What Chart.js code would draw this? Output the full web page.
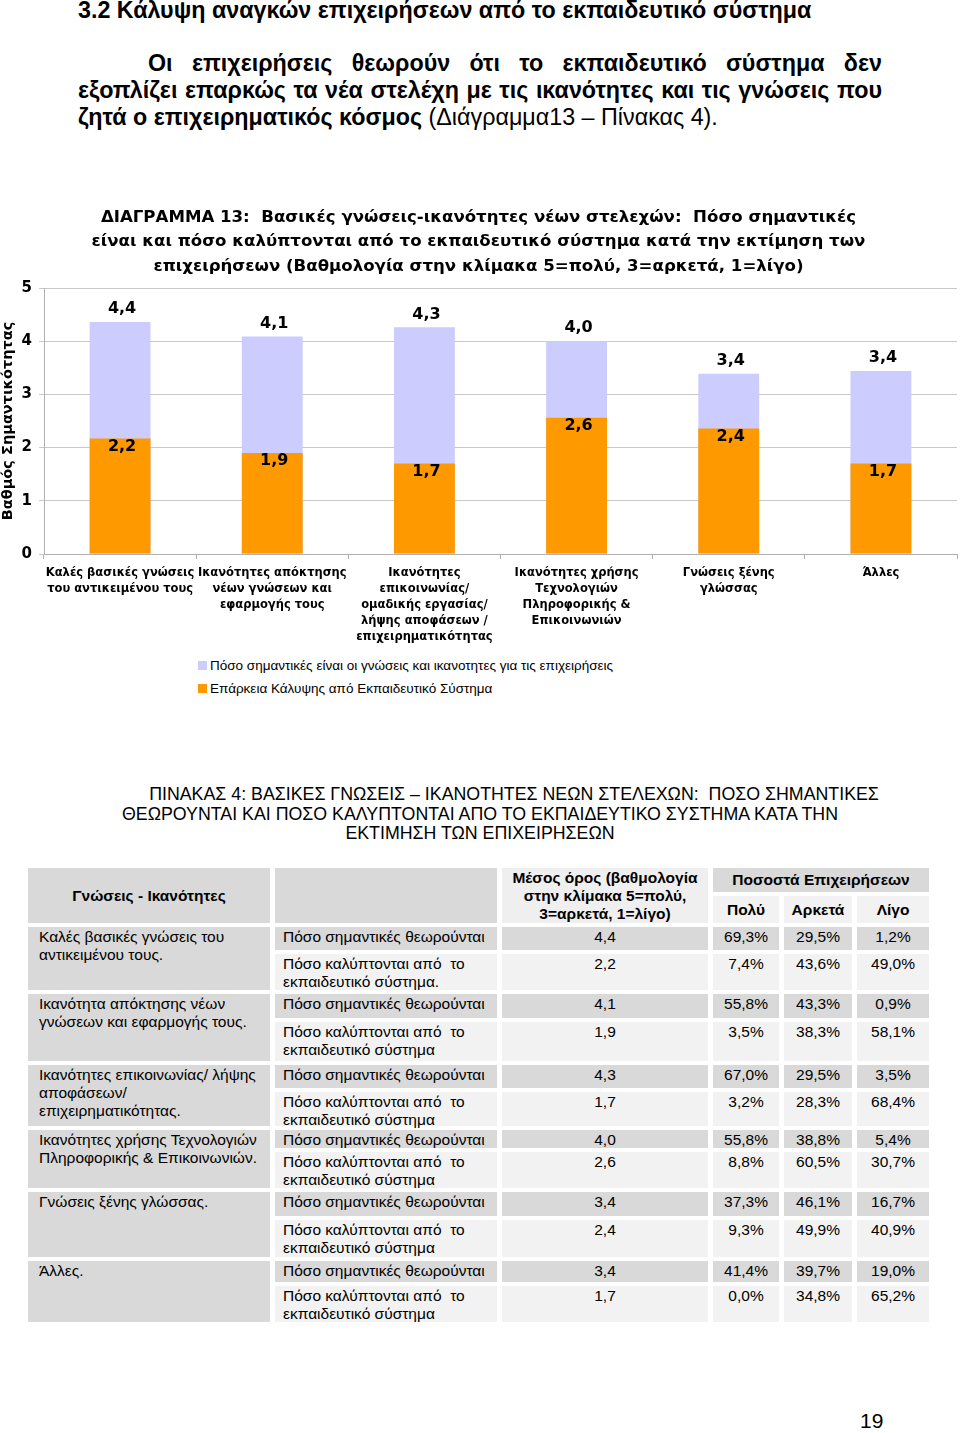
<!DOCTYPE html>
<html lang="el">
<head>
<meta charset="utf-8">
<script src="https://cdn.jsdelivr.net/npm/chart.js@4.4.1/dist/chart.umd.min.js"></script>
<style>
  body { margin: 0; width: 960px; height: 1433px; position: relative; background: #fff; color: #000;
         font-family: "Liberation Sans", Arial, sans-serif; overflow: hidden; }
  #heading { position: absolute; top: -3px; left: 78px; font-size: 23.3px; font-weight: bold; white-space: nowrap; }
  #para { position: absolute; top: 50px; left: 78px; width: 804px; font-size: 23.3px; font-weight: bold; line-height: 27px; }
  #para div { text-align: justify; text-align-last: justify; white-space: nowrap; }
  #para div.first { padding-left: 70px; }
  #para div.last { text-align-last: left; }
  #para span { font-weight: normal; }
  #chartBox { position: absolute; top: 195px; left: 0; width: 960px; height: 450px; }
  #legend { position: absolute; top: 654px; left: 198px; font-size: 13.5px; line-height: 23px; white-space: nowrap; }
  #legend .box { display: inline-block; width: 9px; height: 9px; margin-right: 3px; vertical-align: 0; }
  #tableTitle { position: absolute; top: 785px; left: 30px; width: 900px; font-size: 17.8px; line-height: 19.5px;
                text-align: center; white-space: nowrap; }
  table { position: absolute; top: 864px; left: 23px; border-collapse: separate; border-spacing: 5px 4px;
          table-layout: fixed; font-size: 15.5px; }
  td { padding: 0; vertical-align: top; }
  td > div { overflow: visible; line-height: 18px; padding-top: 1px; box-sizing: border-box; }
  td.dark { background: #d9d9d9; }
  td.light { background: #f2f2f2; }
  td.c { text-align: center; }
  td.name > div { padding-left: 11px; }
  td.q > div { padding-left: 8px; white-space: nowrap; }
  th { font-weight: bold; font-size: 15.5px; line-height: 18px; padding: 0; }
  #pageNo { position: absolute; left: 860px; top: 1409px; font-size: 21px; }
</style>
</head>
<body>
<div id="heading">3.2 Κάλυψη αναγκών επιχειρήσεων από το εκπαιδευτικό σύστημα</div>
<div id="para">
  <div class="first">Οι επιχειρήσεις θεωρούν ότι το εκπαιδευτικό σύστημα δεν</div>
  <div>εξοπλίζει επαρκώς τα νέα στελέχη με τις ικανότητες και τις γνώσεις που</div>
  <div class="last">ζητά ο επιχειρηματικός κόσμος <span>(Διάγραμμα13 – Πίνακας 4).</span></div>
</div>
<div id="chartBox"><canvas id="chart"></canvas></div>
<div id="legend"></div>
<div id="tableTitle"><span style="padding-left:68px">ΠΙΝΑΚΑΣ 4: ΒΑΣΙΚΕΣ ΓΝΩΣΕΙΣ – ΙΚΑΝΟΤΗΤΕΣ ΝΕΩΝ ΣΤΕΛΕΧΩΝ:&nbsp; ΠΟΣΟ ΣΗΜΑΝΤΙΚΕΣ</span><br>ΘΕΩΡΟΥΝΤΑΙ ΚΑΙ ΠΟΣΟ ΚΑΛΥΠΤΟΝΤΑΙ ΑΠΟ ΤΟ ΕΚΠΑΙΔΕΥΤΙΚΟ ΣΥΣΤΗΜΑ ΚΑΤΑ ΤΗΝ<br>ΕΚΤΙΜΗΣΗ ΤΩΝ ΕΠΙΧΕΙΡΗΣΕΩΝ</div>
<table id="table">
  <colgroup><col style="width:242px"><col style="width:222px"><col style="width:206px"><col style="width:66px"><col style="width:68px"><col style="width:72px"></colgroup>
  <tbody id="tbody"></tbody>
</table>
<div id="pageNo">19</div>

<script>
// chart data
const categories = [
  ["Καλές βασικές γνώσεις", "του αντικειμένου τους"],
  ["Ικανότητες απόκτησης", "νέων γνώσεων και", "εφαρμογής τους"],
  ["Ικανότητες", "επικοινωνίας/", "ομαδικής εργασίας/", "λήψης αποφάσεων /", "επιχειρηματικότητας"],
  ["Ικανότητες χρήσης", "Τεχνολογιών", "Πληροφορικής &", "Επικοινωνιών"],
  ["Γνώσεις ξένης", "γλώσσας"],
  ["Άλλες"]
]
const importance = [4.36, 4.09, 4.26, 4.0, 3.39, 3.44]
const coverage = [2.17, 1.9, 1.7, 2.56, 2.36, 1.7]
const yTicks = [0, 1, 2, 3, 4, 5]
const seriesNames = [
  "Πόσο σημαντικές είναι οι γνώσεις και ικανοτητες για τις επιχειρήσεις",
  "Επάρκεια Κάλυψης από Εκπαιδευτικό Σύστημα"
]
const chartTitle = [
  "ΔΙΑΓΡΑΜΜΑ 13:  Βασικές γνώσεις-ικανότητες νέων στελεχών:  Πόσο σημαντικές",
  "είναι και πόσο καλύπτονται από το εκπαιδευτικό σύστημα κατά την εκτίμηση των",
  "επιχειρήσεων (Βαθμολογία στην κλίμακα 5=πολύ, 3=αρκετά, 1=λίγο)"
]

// table data
const skillNames = [
  ["Καλές βασικές γνώσεις του", "αντικειμένου τους."],
  ["Ικανότητα απόκτησης νέων", "γνώσεων και εφαρμογής τους."],
  ["Ικανότητες επικοινωνίας/ λήψης", "αποφάσεων/", "επιχειρηματικότητας."],
  ["Ικανότητες χρήσης Τεχνολογιών", "Πληροφορικής & Επικοινωνιών."],
  ["Γνώσεις ξένης γλώσσας."],
  ["Άλλες."]
]
const meanImportance = ["4,4", "4,1", "4,3", "4,0", "3,4", "3,4"]
const meanCoverage = ["2,2", "1,9", "1,7", "2,6", "2,4", "1,7"]
const pctImportance = [
  ["69,3%", "29,5%", "1,2%"], ["55,8%", "43,3%", "0,9%"], ["67,0%", "29,5%", "3,5%"],
  ["55,8%", "38,8%", "5,4%"], ["37,3%", "46,1%", "16,7%"], ["41,4%", "39,7%", "19,0%"]
]
const pctCoverage = [
  ["7,4%", "43,6%", "49,0%"], ["3,5%", "38,3%", "58,1%"], ["3,2%", "28,3%", "68,4%"],
  ["8,8%", "60,5%", "30,7%"], ["9,3%", "49,9%", "40,9%"], ["0,0%", "34,8%", "65,2%"]
]
const rowHeights = [[23, 36], [24, 39], [23, 34], [18, 36], [24, 37], [21, 36]]

// build table
let tbody = document.getElementById("tbody")
let cell = (cls, h, content) => `<td class="${cls}"><div style="height:${h}px">${content}</div></td>`
let html = `<tr style="height:24px">
  <th rowspan="2" style="background:#d9d9d9">Γνώσεις - Ικανότητες</th>
  <th rowspan="2" style="background:#d9d9d9"></th>
  <th rowspan="2" style="background:#efefef;vertical-align:top;padding-top:1px">Μέσος όρος (βαθμολογία<br>στην κλίμακα 5=πολύ,<br>3=αρκετά, 1=λίγο)</th>
  <th colspan="3" style="background:#d9d9d9">Ποσοστά Επιχειρήσεων</th></tr>
  <tr style="height:26px"><th style="background:#f2f2f2">Πολύ</th><th style="background:#f2f2f2">Αρκετά</th><th style="background:#f2f2f2">Λίγο</th></tr>`
skillNames.forEach((name, i) => {
  let [h1, h2] = rowHeights[i]
  let dot = i == 0 ? "." : ""
  html += `<tr>
    <td rowspan="2" class="dark name"><div>${name.join("<br>")}</div></td>
    ${cell("dark q", h1, "Πόσο σημαντικές θεωρούνται")}
    ${cell("dark c", h1, meanImportance[i])}
    ${pctImportance[i].map(p => cell("dark c", h1, p)).join("")}</tr>
    <tr>
    ${cell("light q", h2, "Πόσο καλύπτονται από&nbsp; το<br>εκπαιδευτικό σύστημα" + dot)}
    ${cell("light c", h2, meanCoverage[i])}
    ${pctCoverage[i].map(p => cell("light c", h2, p)).join("")}</tr>`
})
tbody.innerHTML = html

// value labels above / inside bars
const valueLabels = {
  id: "valueLabels",
  afterDatasetsDraw(chart) {
    const ctx = chart.ctx
    ctx.save()
    ctx.font = "bold 16px 'DejaVu Sans'"
    ctx.fillStyle = "#000"
    ctx.textAlign = "center"
    ctx.textBaseline = "middle"
    chart.data.datasets.forEach((ds, i) => {
      chart.getDatasetMeta(i).data.forEach((bar, j) => {
        let text = ds.data[j].toFixed(1).replace(".", ",")
        let y = i == 0 ? bar.y - 13 : bar.y + 8
        ctx.fillText(text, bar.x + 2, y)
      })
    })
    ctx.restore()
  }
}

const config = {
  type: "bar",
  data: {
    labels: categories,
    datasets: [
      { label: seriesNames[0], data: importance, backgroundColor: "#ccccff", order: 1 },
      { label: seriesNames[1], data: coverage, backgroundColor: "#ff9900", order: 0 }
    ]
  },
  options: {
    responsive: true,
    maintainAspectRatio: false,
    animation: false,
    grouped: false,
    barPercentage: 0.4,
    categoryPercentage: 1,
    layout: { padding: { left: 0, right: 3, top: 0, bottom: 0 } },
    scales: {
      x: {
        grid: { drawOnChartArea: false, drawTicks: true, tickLength: 5, color: "#b0b0b0" },
        border: { color: "#b0b0b0" },
        ticks: { color: "#000", padding: 6, maxRotation: 0, autoSkip: false,
                 font: { family: "DejaVu Sans", weight: "bold", size: 11.5, lineHeight: 1.39 } },
        afterFit(scale) { scale.height = 91 }
      },
      y: {
        min: 0,
        max: 5,
        afterBuildTicks(scale) { scale.ticks = yTicks.map(v => ({ value: v })) },
        grid: { color: "#c8c8c8", tickLength: 5 },
        border: { color: "#b0b0b0" },
        ticks: { color: "#000", padding: 7, font: { family: "DejaVu Sans", weight: "bold", size: 15 } },
        title: { display: true, text: "Βαθμός Σημαντικότητας", color: "#000", padding: 0,
                 font: { family: "DejaVu Sans", weight: "bold", size: 14.5 } },
        afterFit(scale) { scale.width = 44 }
      }
    },
    plugins: {
      legend: { display: false },
      tooltip: { enabled: false },
      title: {
        display: true,
        text: chartTitle,
        color: "#000",
        padding: { top: 10, bottom: 9.5 },
        font: { family: "DejaVu Sans", weight: "bold", size: 16.6, lineHeight: 1.476 }
      }
    }
  },
  plugins: [valueLabels]
}

let chart = new Chart(document.getElementById("chart"), config)

// legend under the chart, one series per line
let legend = document.getElementById("legend")
chart.data.datasets.forEach(ds => {
  legend.insertAdjacentHTML("beforeend",
    `<div><span class="box" style="background:${ds.backgroundColor}"></span>${ds.label}</div>`)
})
</script>
</body>
</html>
